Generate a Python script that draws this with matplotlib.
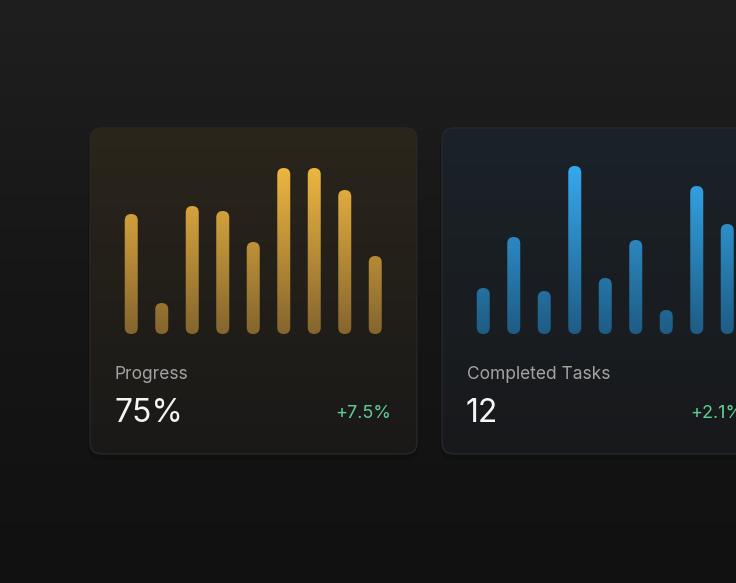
import numpy as np
import matplotlib.pyplot as plt
from matplotlib.patches import FancyBboxPatch
from matplotlib.colors import LinearSegmentedColormap

plt.rcParams['font.family'] = ['Inter', 'DejaVu Sans']

# bar heights (px-ish units)
progress_vals = [120, 31, 128, 123, 92, 166, 166, 144, 78]
tasks_vals = [46, 97, 43, 168, 56, 94, 24, 148, 110]

titles = ["Progress", "Completed Tasks"]
big_values = ["75%", "12"]
changes = ["+7.5%", "+2.1%"]

W, H = 736, 583
fig = plt.figure(figsize=(W / 100, H / 100), dpi=100)
ax = fig.add_axes([0, 0, 1, 1])
ax.set_xlim(0, W)
ax.set_ylim(H, 0)
ax.axis('off')

# page background gradient
bg = np.linspace(0, 1, 256).reshape(-1, 1)
bg_cmap = LinearSegmentedColormap.from_list('bg', ['#1f1f1f', '#161616', '#111111'])
ax.imshow(bg, cmap=bg_cmap, extent=(0, W, H, 0), aspect='auto', zorder=0)

cards = [
    dict(x0=90, x1=417, top_col='#2b251b', bot_col='#1a1918', edge='#2a2723',
         bar_top='#f0b841', bar_bot='#84652e', vals=progress_vals),
    dict(x0=442, x1=769, top_col='#1b2229', bot_col='#18191b', edge='#242930',
         bar_top='#36a9ee', bar_bot='#1e5c84', vals=tasks_vals),
]
card_top, card_bot = 128, 454

for i, c in enumerate(cards):
    # soft shadow
    sh = FancyBboxPatch((c['x0'] - 2, card_top + 2), c['x1'] - c['x0'] + 4, card_bot - card_top + 4,
                        boxstyle="round,pad=0,rounding_size=14", fc='#0c0c0c', ec='none',
                        alpha=0.35, zorder=1)
    ax.add_patch(sh)
    card = FancyBboxPatch((c['x0'], card_top), c['x1'] - c['x0'], card_bot - card_top,
                          boxstyle="round,pad=0,rounding_size=12", fc='none',
                          ec=c['edge'], lw=1, zorder=3)
    ax.add_patch(card)
    cmap = LinearSegmentedColormap.from_list('card%d' % i, [c['top_col'], c['bot_col']])
    im = ax.imshow(bg, cmap=cmap, extent=(c['x0'], c['x1'], card_bot, card_top),
                   aspect='auto', zorder=2)
    im.set_clip_path(card)

    # bar chart region in its own axes
    left = c['x0'] + 26
    span = 274.5
    bax = fig.add_axes([left / W, (H - 334) / H, span / W, 170 / H])
    bax.set_xlim(-0.5, 8.5)
    bax.set_ylim(0, 170)
    bax.axis('off')
    px_per_x = span / 9.0
    bw = 13 / px_per_x
    bcmap = LinearSegmentedColormap.from_list('bar%d' % i, [c['bar_bot'], c['bar_top']])
    grad = np.linspace(0, 1, 256).reshape(-1, 1)
    for j, v in enumerate(c['vals']):
        p = FancyBboxPatch((j - bw / 2, 0), bw, v,
                           boxstyle="round,pad=0,rounding_size=%f" % (bw / 2),
                           mutation_aspect=px_per_x, fc='none', ec='none')
        bax.add_patch(p)
        bim = bax.imshow(grad, cmap=bcmap, origin='lower', extent=(-0.5, 8.5, 0, 170),
                         aspect='auto')
        bim.set_clip_path(p)

    tx = c['x0'] + 25
    ax.text(tx, 379, titles[i], fontsize=12.5, color='#a3a3a3', ha='left', va='baseline', zorder=5)
    ax.text(tx - 1, 422, big_values[i], fontsize=23, color='#f5f5f5',
            ha='left', va='baseline', zorder=5)
    ax.text(c['x1'] - 26, 418, changes[i], fontsize=13, color='#5dcf96', ha='right',
            va='baseline', zorder=5)

fig.savefig('out.png', dpi=100)
